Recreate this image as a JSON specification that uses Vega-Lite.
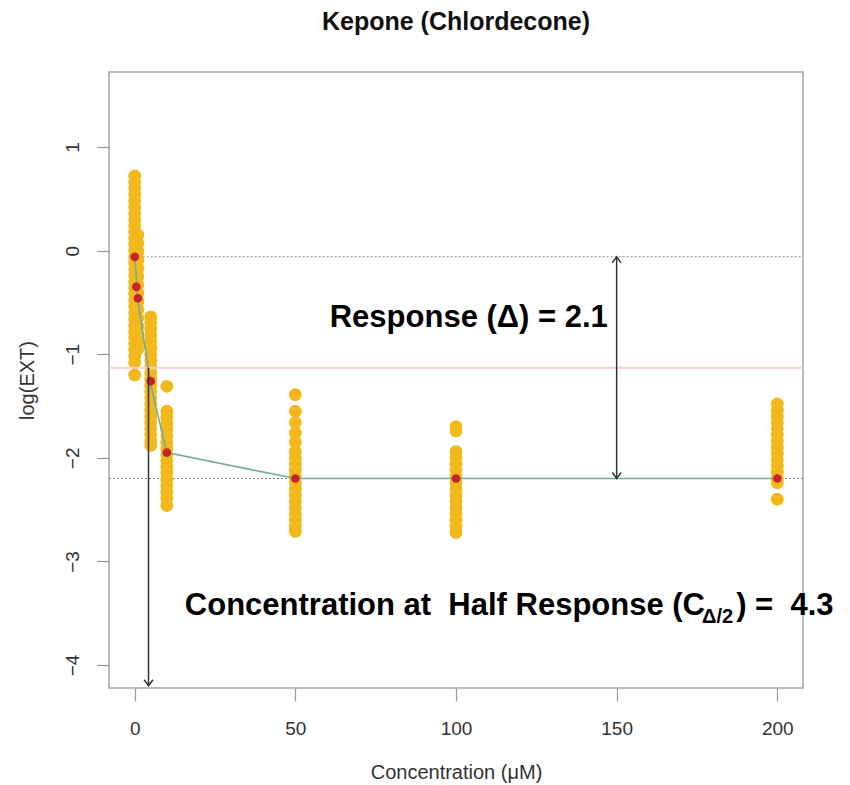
{
  "$schema": "https://vega.github.io/schema/vega-lite/v6.json",
  "width": 694,
  "height": 616,
  "autosize": {"type": "none"},
  "padding": {"left": 109, "top": 72, "right": 47, "bottom": 97},
  "background": "white",
  "config": {
    "view": {"stroke": "#a8a8a8", "strokeWidth": 1.5},
    "font": "Liberation Sans"
  },
  "title": {
    "text": "Kepone (Chlordecone)",
    "font": "Liberation Sans",
    "fontSize": 25,
    "fontWeight": "bold",
    "color": "#111111",
    "anchor": "middle",
    "offset": 37
  },
  "datasets": {
    "pts": [
      {"x": 0, "y": 0.72}, {"x": 0, "y": 0.66}, {"x": 0, "y": 0.60}, {"x": 0, "y": 0.54}, {"x": 0, "y": 0.48},
      {"x": 0, "y": 0.42}, {"x": 0, "y": 0.36}, {"x": 0, "y": 0.30}, {"x": 0, "y": 0.24}, {"x": 0, "y": 0.18},
      {"x": 0, "y": 0.12}, {"x": 0, "y": 0.06}, {"x": 0, "y": 0.00}, {"x": 0, "y": -0.06}, {"x": 0, "y": -0.12},
      {"x": 0, "y": -0.18}, {"x": 0, "y": -0.24}, {"x": 0, "y": -0.30}, {"x": 0, "y": -0.36}, {"x": 0, "y": -0.42},
      {"x": 0, "y": -0.48}, {"x": 0, "y": -0.54}, {"x": 0, "y": -0.60}, {"x": 0, "y": -0.66}, {"x": 0, "y": -0.72},
      {"x": 0, "y": -0.78}, {"x": 0, "y": -0.84}, {"x": 0, "y": -0.90}, {"x": 0, "y": -0.96}, {"x": 0, "y": -1.02},
      {"x": 0, "y": -1.08}, {"x": 0, "y": -1.20},
      {"x": 0.5, "y": 0.05}, {"x": 0.5, "y": -0.05}, {"x": 0.5, "y": -0.15}, {"x": 0.5, "y": -0.25}, {"x": 0.5, "y": -0.35},
      {"x": 0.5, "y": -0.45}, {"x": 0.5, "y": -0.55}, {"x": 0.5, "y": -0.65}, {"x": 0.5, "y": -0.75}, {"x": 0.5, "y": -0.85},
      {"x": 1, "y": 0.15}, {"x": 1, "y": 0.07}, {"x": 1, "y": -0.01}, {"x": 1, "y": -0.09}, {"x": 1, "y": -0.17},
      {"x": 1, "y": -0.25}, {"x": 1, "y": -0.33}, {"x": 1, "y": -0.41}, {"x": 1, "y": -0.49}, {"x": 1, "y": -0.57},
      {"x": 1, "y": -0.65}, {"x": 1, "y": -0.73}, {"x": 1, "y": -0.81}, {"x": 1, "y": -0.89}, {"x": 1, "y": -0.95},
      {"x": 5, "y": -0.64}, {"x": 5, "y": -0.70}, {"x": 5, "y": -0.76}, {"x": 5, "y": -0.82}, {"x": 5, "y": -0.88},
      {"x": 5, "y": -0.94}, {"x": 5, "y": -1.00}, {"x": 5, "y": -1.06}, {"x": 5, "y": -1.12}, {"x": 5, "y": -1.18},
      {"x": 5, "y": -1.24}, {"x": 5, "y": -1.30}, {"x": 5, "y": -1.36}, {"x": 5, "y": -1.42}, {"x": 5, "y": -1.48},
      {"x": 5, "y": -1.54}, {"x": 5, "y": -1.60}, {"x": 5, "y": -1.66}, {"x": 5, "y": -1.72}, {"x": 5, "y": -1.78},
      {"x": 5, "y": -1.84}, {"x": 5, "y": -1.88},
      {"x": 10, "y": -1.31}, {"x": 10, "y": -1.55}, {"x": 10, "y": -1.61}, {"x": 10, "y": -1.67}, {"x": 10, "y": -1.73},
      {"x": 10, "y": -1.79}, {"x": 10, "y": -1.85}, {"x": 10, "y": -1.91}, {"x": 10, "y": -1.97}, {"x": 10, "y": -2.03},
      {"x": 10, "y": -2.09}, {"x": 10, "y": -2.15}, {"x": 10, "y": -2.21}, {"x": 10, "y": -2.27}, {"x": 10, "y": -2.33},
      {"x": 10, "y": -2.39}, {"x": 10, "y": -2.46},
      {"x": 50, "y": -1.39}, {"x": 50, "y": -1.55}, {"x": 50, "y": -1.66}, {"x": 50, "y": -1.76}, {"x": 50, "y": -1.85},
      {"x": 50, "y": -1.94}, {"x": 50, "y": -2.00}, {"x": 50, "y": -2.06}, {"x": 50, "y": -2.12}, {"x": 50, "y": -2.18},
      {"x": 50, "y": -2.24}, {"x": 50, "y": -2.30}, {"x": 50, "y": -2.36}, {"x": 50, "y": -2.42}, {"x": 50, "y": -2.48},
      {"x": 50, "y": -2.54}, {"x": 50, "y": -2.60}, {"x": 50, "y": -2.66}, {"x": 50, "y": -2.71},
      {"x": 100, "y": -1.70}, {"x": 100, "y": -1.74}, {"x": 100, "y": -1.94}, {"x": 100, "y": -2.00}, {"x": 100, "y": -2.06},
      {"x": 100, "y": -2.12}, {"x": 100, "y": -2.18}, {"x": 100, "y": -2.24}, {"x": 100, "y": -2.30}, {"x": 100, "y": -2.36},
      {"x": 100, "y": -2.42}, {"x": 100, "y": -2.48}, {"x": 100, "y": -2.54}, {"x": 100, "y": -2.60}, {"x": 100, "y": -2.66},
      {"x": 100, "y": -2.72},
      {"x": 200, "y": -1.48}, {"x": 200, "y": -1.54}, {"x": 200, "y": -1.60}, {"x": 200, "y": -1.66}, {"x": 200, "y": -1.72},
      {"x": 200, "y": -1.78}, {"x": 200, "y": -1.84}, {"x": 200, "y": -1.90}, {"x": 200, "y": -1.96}, {"x": 200, "y": -2.02},
      {"x": 200, "y": -2.08}, {"x": 200, "y": -2.14}, {"x": 200, "y": -2.20}, {"x": 200, "y": -2.24}, {"x": 200, "y": -2.40}
    ],
    "means": [
      {"x": 0, "y": -0.06}, {"x": 0.5, "y": -0.35}, {"x": 1, "y": -0.46}, {"x": 5, "y": -1.26},
      {"x": 10, "y": -1.95}, {"x": 50, "y": -2.20}, {"x": 100, "y": -2.20}, {"x": 200, "y": -2.20}
    ],
    "fit": [
      {"x": 0, "y": -0.06}, {"x": 1, "y": -0.48}, {"x": 5, "y": -1.30}, {"x": 10, "y": -1.95},
      {"x": 50, "y": -2.20}, {"x": 100, "y": -2.20}, {"x": 200, "y": -2.20}
    ],
    "halfline": [{"x": -8, "x2": 208, "y": -1.13}],
    "dotted": [
      {"x": 0, "x2": 208, "y": -0.06},
      {"x": -8, "x2": 208, "y": -2.20}
    ],
    "arrows": [
      {"x": 4.3, "y": -1.13, "y2": -4.2},
      {"x": 150, "y": -0.06, "y2": -2.2}
    ],
    "headsDown": [{"x": 4.3, "y": -4.2}, {"x": 150, "y": -2.2}],
    "headsUp": [{"x": 150, "y": -0.06}],
    "bigText": [
      {"x": 60.7, "y": -0.735, "t": "Response (Δ) = 2.1"},
      {"x": 15.6, "y": -3.517, "t": "Concentration at \u00a0Half Response (C"},
      {"x": 187.2, "y": -3.517, "t": ") = \u00a04.3"}
    ],
    "subText": [{"x": 176.6, "y": -3.595, "t": "Δ/2"}]
  },
  "encoding": {
    "x": {
      "field": "x",
      "type": "quantitative",
      "scale": {"domain": [-8, 208], "nice": false, "zero": false},
      "title": "Concentration (μM)",
      "axis": {
        "values": [0, 50, 100, 150, 200],
        "grid": false,
        "domain": false,
        "tickSize": 13,
        "tickColor": "#999999",
        "tickWidth": 1.2,
        "labelFont": "Liberation Sans",
        "labelFontSize": 19,
        "labelColor": "#333333",
        "labelPadding": 18,
        "titleFont": "Liberation Sans",
        "titleFontSize": 20,
        "titleFontWeight": "normal",
        "titleColor": "#333333",
        "titlePadding": 24
      }
    },
    "y": {
      "field": "y",
      "type": "quantitative",
      "scale": {"domain": [-4.222, 1.724], "nice": false, "zero": false},
      "title": "log(EXT)",
      "axis": {
        "values": [-4, -3, -2, -1, 0, 1],
        "grid": false,
        "domain": false,
        "tickSize": 12,
        "tickColor": "#999999",
        "tickWidth": 1.2,
        "labelAngle": -90,
        "labelAlign": "center",
        "labelBaseline": "bottom",
        "labelFont": "Liberation Sans",
        "labelFontSize": 19,
        "labelColor": "#333333",
        "labelPadding": 15,
        "titleFont": "Liberation Sans",
        "titleFontSize": 20,
        "titleFontWeight": "normal",
        "titleColor": "#333333",
        "titlePadding": 26
      }
    }
  },
  "layer": [
    {
      "data": {"name": "dotted"},
      "mark": {"type": "rule", "color": "#888888", "strokeWidth": 1, "strokeDash": [2, 2]},
      "encoding": {"x2": {"field": "x2"}}
    },
    {
      "data": {"name": "pts"},
      "mark": {"type": "circle", "color": "#F3B81B", "opacity": 1, "size": 165}
    },
    {
      "data": {"name": "halfline"},
      "mark": {"type": "rule", "color": "#F6CFCB", "strokeWidth": 2},
      "encoding": {"x2": {"field": "x2"}}
    },
    {
      "data": {"name": "fit"},
      "mark": {"type": "line", "color": "#6FAF97", "strokeWidth": 1.6}
    },
    {
      "data": {"name": "means"},
      "mark": {"type": "circle", "color": "#C8232C", "opacity": 1, "size": 75}
    },
    {
      "data": {"name": "arrows"},
      "mark": {"type": "rule", "color": "#333333", "strokeWidth": 1.5},
      "encoding": {"y2": {"field": "y2"}}
    },
    {
      "data": {"name": "headsDown"},
      "mark": {"type": "point", "shape": "M-1.1,-1.5L0,0L1.1,-1.5", "filled": false, "color": "#333333", "strokeWidth": 1.5, "size": 64, "opacity": 1}
    },
    {
      "data": {"name": "headsUp"},
      "mark": {"type": "point", "shape": "M-1.1,1.5L0,0L1.1,1.5", "filled": false, "color": "#333333", "strokeWidth": 1.5, "size": 64, "opacity": 1}
    },
    {
      "data": {"name": "bigText"},
      "mark": {"type": "text", "font": "Liberation Sans", "fontSize": 31, "fontWeight": "bold", "align": "left", "baseline": "alphabetic", "color": "#000000"},
      "encoding": {"text": {"field": "t"}}
    },
    {
      "data": {"name": "subText"},
      "mark": {"type": "text", "font": "Liberation Sans", "fontSize": 20, "fontWeight": "bold", "align": "left", "baseline": "alphabetic", "color": "#000000"},
      "encoding": {"text": {"field": "t"}}
    }
  ]
}
